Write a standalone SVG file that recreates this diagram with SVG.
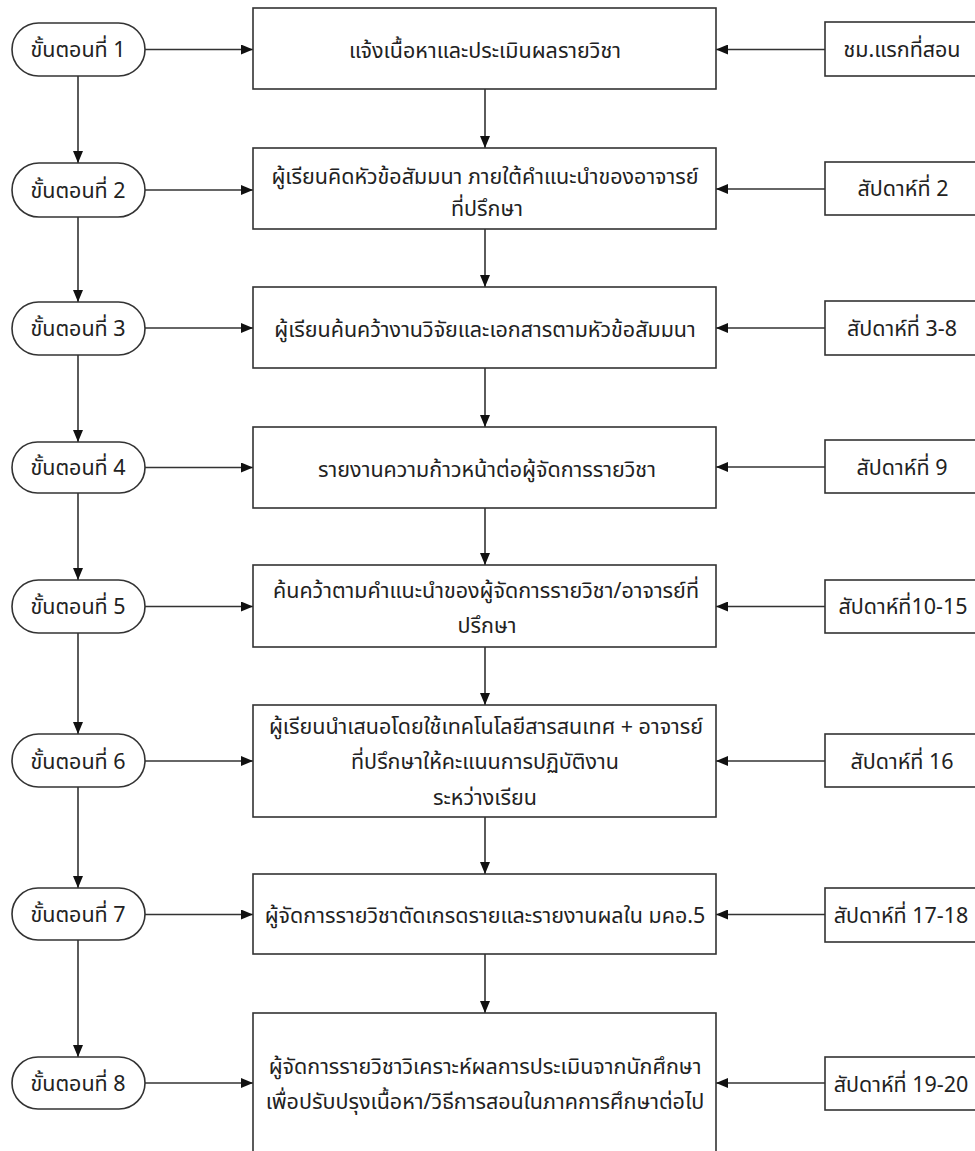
<svg xmlns="http://www.w3.org/2000/svg" width="975" height="1151" viewBox="0 0 975 1151">
<style>
.pill{fill:#fff;stroke:#333;stroke-width:1.6}
.box{fill:#fff;stroke:#333;stroke-width:1.6}
.t{font-family:"Noto Sans Thai","Tahoma","Noto Sans","DejaVu Sans",sans-serif;font-size:21.5px;fill:#222;text-anchor:middle}
.c line{stroke:#333;stroke-width:1.6}
</style>
<defs>
<marker id="ah" viewBox="0 0 12 10" refX="12" refY="5" markerWidth="12" markerHeight="10" markerUnits="userSpaceOnUse" orient="auto">
<path d="M0,0 L12,5 L0,10 Z" fill="#111"/>
</marker>
</defs>
<rect width="975" height="1151" fill="#fff"/>
<g class="c">
<line x1="145" y1="49.5" x2="253" y2="49.5" marker-end="url(#ah)"/>
<line x1="145" y1="190" x2="253" y2="190" marker-end="url(#ah)"/>
<line x1="145" y1="328" x2="253" y2="328" marker-end="url(#ah)"/>
<line x1="145" y1="467.5" x2="253" y2="467.5" marker-end="url(#ah)"/>
<line x1="145" y1="606.5" x2="253" y2="606.5" marker-end="url(#ah)"/>
<line x1="145" y1="761" x2="253" y2="761" marker-end="url(#ah)"/>
<line x1="145" y1="914.5" x2="253" y2="914.5" marker-end="url(#ah)"/>
<line x1="145" y1="1083" x2="253" y2="1083" marker-end="url(#ah)"/>
<line x1="825" y1="49.5" x2="716" y2="49.5" marker-end="url(#ah)"/>
<line x1="825" y1="189" x2="716" y2="189" marker-end="url(#ah)"/>
<line x1="825" y1="328" x2="716" y2="328" marker-end="url(#ah)"/>
<line x1="825" y1="467" x2="716" y2="467" marker-end="url(#ah)"/>
<line x1="825" y1="606.5" x2="716" y2="606.5" marker-end="url(#ah)"/>
<line x1="825" y1="761" x2="716" y2="761" marker-end="url(#ah)"/>
<line x1="825" y1="914.5" x2="716" y2="914.5" marker-end="url(#ah)"/>
<line x1="825" y1="1083" x2="716" y2="1083" marker-end="url(#ah)"/>
<line x1="78" y1="76" x2="78" y2="163" marker-end="url(#ah)"/>
<line x1="78" y1="217" x2="78" y2="302" marker-end="url(#ah)"/>
<line x1="78" y1="355" x2="78" y2="442" marker-end="url(#ah)"/>
<line x1="78" y1="493" x2="78" y2="580" marker-end="url(#ah)"/>
<line x1="78" y1="633" x2="78" y2="734" marker-end="url(#ah)"/>
<line x1="78" y1="787" x2="78" y2="888" marker-end="url(#ah)"/>
<line x1="78" y1="940" x2="78" y2="1057" marker-end="url(#ah)"/>
<line x1="485" y1="89" x2="485" y2="148" marker-end="url(#ah)"/>
<line x1="485" y1="229" x2="485" y2="287" marker-end="url(#ah)"/>
<line x1="485" y1="368" x2="485" y2="427" marker-end="url(#ah)"/>
<line x1="485" y1="508" x2="485" y2="565" marker-end="url(#ah)"/>
<line x1="485" y1="647" x2="485" y2="705" marker-end="url(#ah)"/>
<line x1="485" y1="817" x2="485" y2="874" marker-end="url(#ah)"/>
<line x1="485" y1="954" x2="485" y2="1013" marker-end="url(#ah)"/>
</g>
<g id="step1"><rect class="pill" x="12" y="23" width="133" height="53" rx="26.5"/><text class="t" x="78" y="57">ขั้นตอนที่ 1</text></g>
<g id="step2"><rect class="pill" x="12" y="163" width="133" height="54" rx="27"/><text class="t" x="78" y="198">ขั้นตอนที่ 2</text></g>
<g id="step3"><rect class="pill" x="12" y="302" width="133" height="53" rx="26.5"/><text class="t" x="78" y="336">ขั้นตอนที่ 3</text></g>
<g id="step4"><rect class="pill" x="12" y="442" width="133" height="51" rx="25.5"/><text class="t" x="78" y="475">ขั้นตอนที่ 4</text></g>
<g id="step5"><rect class="pill" x="12" y="580" width="133" height="53" rx="26.5"/><text class="t" x="78" y="614">ขั้นตอนที่ 5</text></g>
<g id="step6"><rect class="pill" x="12" y="734" width="133" height="53" rx="26.5"/><text class="t" x="78" y="769">ขั้นตอนที่ 6</text></g>
<g id="step7"><rect class="pill" x="12" y="888" width="133" height="52" rx="26"/><text class="t" x="78" y="922">ขั้นตอนที่ 7</text></g>
<g id="step8"><rect class="pill" x="12" y="1057" width="133" height="52" rx="26"/><text class="t" x="78" y="1091">ขั้นตอนที่ 8</text></g>
<g id="task1"><rect class="box" x="253" y="8" width="463" height="81"/><text class="t" x="485" y="58">แจ้งเนื้อหาและประเมินผลรายวิชา</text></g>
<g id="task2"><rect class="box" x="253" y="148" width="463" height="81"/><text class="t" x="485" y="184">ผู้เรียนคิดหัวข้อสัมมนา ภายใต้คำแนะนำของอาจารย์</text><text class="t" x="487" y="216">ที่ปรึกษา</text></g>
<g id="task3"><rect class="box" x="253" y="287" width="463" height="81"/><text class="t" x="485" y="337">ผู้เรียนค้นคว้างานวิจัยและเอกสารตามหัวข้อสัมมนา</text></g>
<g id="task4"><rect class="box" x="253" y="427" width="463" height="81"/><text class="t" x="487" y="477">รายงานความก้าวหน้าต่อผู้จัดการรายวิชา</text></g>
<g id="task5"><rect class="box" x="253" y="565" width="463" height="82"/><text class="t" x="486" y="598">ค้นคว้าตามคำแนะนำของผู้จัดการรายวิชา/อาจารย์ที่</text><text class="t" x="487" y="633">ปรึกษา</text></g>
<g id="task6"><rect class="box" x="253" y="705" width="463" height="112"/><text class="t" x="486" y="734">ผู้เรียนนำเสนอโดยใช้เทคโนโลยีสารสนเทศ + อาจารย์</text><text class="t" x="485" y="769">ที่ปรึกษาให้คะแนนการปฏิบัติงาน</text><text class="t" x="485" y="805">ระหว่างเรียน</text></g>
<g id="task7"><rect class="box" x="253" y="874" width="463" height="80"/><text class="t" x="485" y="923">ผู้จัดการรายวิชาตัดเกรดรายและรายงานผลใน มคอ.5</text></g>
<g id="task8"><rect class="box" x="253" y="1013" width="463" height="150"/><text class="t" x="485" y="1074">ผู้จัดการรายวิชาวิเคราะห์ผลการประเมินจากนักศึกษา</text><text class="t" x="485" y="1109">เพื่อปรับปรุงเนื้อหา/วิธีการสอนในภาคการศึกษาต่อไป</text></g>
<g id="time1"><rect class="box" x="825" y="22" width="160" height="54"/><text class="t" x="902" y="57">ชม.แรกที่สอน</text></g>
<g id="time2"><rect class="box" x="825" y="162" width="160" height="53"/><text class="t" x="903" y="196">สัปดาห์ที่ 2</text></g>
<g id="time3"><rect class="box" x="825" y="301" width="160" height="54"/><text class="t" x="902" y="336">สัปดาห์ที่ 3-8</text></g>
<g id="time4"><rect class="box" x="825" y="440" width="160" height="53"/><text class="t" x="902" y="475">สัปดาห์ที่ 9</text></g>
<g id="time5"><rect class="box" x="825" y="580" width="160" height="53"/><text class="t" x="903" y="614">สัปดาห์ที่10-15</text></g>
<g id="time6"><rect class="box" x="825" y="734" width="160" height="53"/><text class="t" x="902" y="769">สัปดาห์ที่ 16</text></g>
<g id="time7"><rect class="box" x="825" y="888" width="160" height="54"/><text class="t" x="901" y="923">สัปดาห์ที่ 17-18</text></g>
<g id="time8"><rect class="box" x="825" y="1057" width="160" height="53"/><text class="t" x="901" y="1092">สัปดาห์ที่ 19-20</text></g>
</svg>
